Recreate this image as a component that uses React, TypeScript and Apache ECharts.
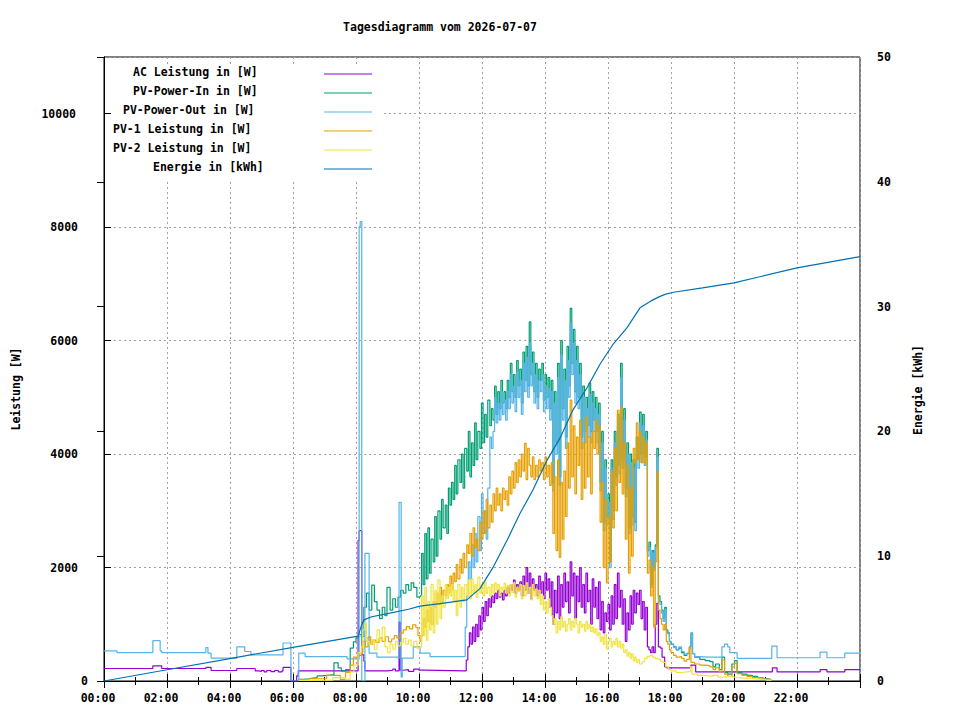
import React, { useEffect, useRef } from "react";
import * as echarts from "echarts";

const TITLE = "Tagesdiagramm vom 2026-07-07";
const Y_NAME = "Leistung [W]";
const Y2_NAME = "Energie [kWh]";
const xTickLabels = ["00:00", "02:00", "04:00", "06:00", "08:00", "10:00", "12:00", "14:00", "16:00", "18:00", "20:00", "22:00"];
const legendNames = ["AC Leistung in [W]", "PV-Power-In in [W]", "PV-Power-Out in [W]", "PV-1 Leistung in [W]", "PV-2 Leistung in [W]", "Energie in [kWh]"];
const colors = ["#9400d3", "#009e73", "#56b4e9", "#e69f00", "#f0e442", "#0072b2"];

// time in minutes since midnight, value in W
const acPower: [number, number][] = [
  [0,220],[93,265],[110,220],[194,240],[204,185],[253,220],[288,180],[295,170],[300,185],[305,160],[310,185],[318,165],[325,185],[332,160],[339,180],[341,240],[356,0],[367,90],[370,180],
  [484,2480],[486,2650],[491,460],[495,350],[497,180],[540,190],[550,210],[555,180],[562,1040],[564,190],[570,200],[580,170],[590,210],[600,190],[610,180],[686,180],
  [690,370],[693,600],[696,850],[699,650],[702,950],[705,700],[708,1000],[711,780],[714,1150],[717,900],[720,1300],[723,1050],[726,1400],[729,1150],[732,1450],[735,1300],[738,1500],
  [741,1380],[744,1550],[747,1450],[750,1600],[753,1480],[756,1550],[759,1430],[762,1600],[765,1500],[768,1650],[771,1550],[774,1700],[777,1600],[780,1780],[783,1550],[786,1700],
  [789,1600],[792,1750],[795,1500],[798,1850],[801,1600],[804,2000],[807,1550],[810,1900],[813,1450],[816,1800],[819,1600],[822,1700],[825,1500],[828,1850],[831,1550],[834,1750],
  [837,1450],[840,1900],[843,1600],[846,1800],[849,1300],[852,1750],[855,1000],[858,1600],[861,1200],[864,1850],[867,1100],[870,1700],[873,1300],[876,1900],[879,1400],[882,1750],
  [885,1200],[888,2100],[891,1500],[894,1900],[897,1100],[900,1850],[903,1400],[906,2000],[909,1300],[912,1700],[915,1200],[918,1900],[921,1400],[924,1600],[927,1000],[930,1800],
  [933,1300],[936,1650],[939,1100],[942,1750],[945,900],[948,1400],[951,850],[954,1200],[957,1050],[960,1350],[963,900],[966,1500],[969,1000],[972,1700],[975,1100],[978,1900],
  [981,1300],[984,1600],[987,1000],[990,1450],[993,700],[996,1200],[999,900],[1002,1500],[1005,1000],[1008,1600],[1011,1200],[1014,1550],[1017,1350],[1020,1600],[1023,1100],
  [1026,1400],[1029,900],[1032,1300],[1035,600],[1038,550],[1041,500],[1044,600],[1047,500],[1050,1000],[1053,1370],[1056,600],[1060,580],[1063,420],[1068,250],[1072,230],
  [1118,280],[1127,160],[1273,230],[1282,160],[1364,200],[1377,160],[1411,200],[1440,200]
];

const pvIn: [number, number][] = [
  [371,30],[380,40],[390,50],[398,60],[406,90],[415,100],[425,110],[436,105],[438,320],[446,230],[452,180],[460,200],[469,580],[475,690],[480,760],[485,820],[490,780],
  [495,1300],[500,1550],[505,1250],[510,1690],[515,1400],[520,1250],[525,1100],[530,1300],[535,1150],[539,1650],[545,1250],[550,1450],[555,1300],[560,1480],[565,1600],
  [570,1550],[575,1700],[580,1600],[585,1730],[590,1650],[596,1480],[602,1500],[605,2250],[608,1700],[611,2600],[614,1800],[617,2700],[620,1900],[623,2500],[627,2100],
  [630,2900],[633,2200],[636,3000],[640,2500],[643,3200],[646,2700],[650,3100],[653,2600],[656,3400],[659,3100],[662,3500],[665,3200],[668,3800],[671,3300],[674,3900],
  [678,3500],[681,4000],[684,3400],[687,4100],[691,3700],[694,4400],[697,3600],[700,4200],[703,3800],[706,4550],[709,3900],[712,4400],[716,4100],[719,4900],[722,4200],
  [725,4700],[728,4300],[731,4950],[735,4500],[738,4800],[741,4600],[744,5200],[747,4700],[750,5100],[753,4800],[756,5300],[759,4900],[762,5100],[765,4800],[768,5300],
  [771,5000],[774,5600],[777,5100],[780,5400],[783,5000],[786,5650],[789,5200],[792,5500],[795,4900],[798,5800],[801,5300],[804,5900],[807,5200],[810,6330],[813,5400],
  [816,5800],[819,5100],[822,5600],[825,5000],[828,5500],[831,5300],[834,5600],[837,4950],[840,5400],[843,5000],[846,5350],[849,4800],[852,5300],[855,3500],[858,5100],
  [861,4200],[864,5600],[867,3600],[870,6000],[873,4800],[876,5500],[879,4300],[882,5900],[885,5200],[888,6570],[891,5600],[894,6200],[897,5100],[900,5900],[903,5000],
  [906,5600],[909,4300],[912,5200],[915,4400],[918,5000],[921,4500],[924,5250],[927,4400],[930,5100],[933,4600],[936,5000],[939,4400],[942,4900],[945,3500],[948,4400],
  [951,2800],[954,3900],[957,2900],[960,3300],[963,2100],[966,3900],[969,3000],[972,4400],[975,3600],[978,4700],[981,3800],[984,5600],[987,3900],[990,4800],[993,3400],
  [996,4200],[999,2700],[1002,4000],[1005,2900],[1008,3900],[1011,2800],[1014,4300],[1017,3900],[1020,4740],[1023,4000],[1026,4700],[1029,3950],[1032,4400],[1035,2300],
  [1038,2450],[1041,1700],[1044,2300],[1047,2000],[1050,2400],[1053,4100],[1056,1500],[1059,1400],[1062,1250],[1065,1100],[1068,1300],[1071,900],[1074,850],[1077,700],
  [1080,650],[1085,600],[1090,550],[1095,580],[1100,500],[1105,450],[1110,480],[1115,600],[1118,845],[1121,480],[1125,420],[1135,380],[1145,360],[1154,340],[1160,250],
  [1165,300],[1172,200],[1177,420],[1182,150],[1188,120],[1196,300],[1201,360],[1206,150],[1215,120],[1225,100],[1235,80],[1245,60],[1255,40],[1265,30],[1270,0]
];

const pvOut: [number, number][] = [
  [0,530],[25,500],[93,710],[107,530],[110,500],[194,590],[198,490],[204,405],[253,600],[268,520],[280,460],[341,670],[356,0],[371,490],[383,430],[463,390],[484,390],
  [486,8010],[488,8100],[491,0],[497,2250],[505,490],[520,420],[560,400],[562,3150],[566,70],[568,405],[589,600],[596,600],[602,490],[621,430],[688,950],[691,1500],
  [694,2100],[697,1800],[700,2400],[703,2000],[706,2600],[709,2100],[712,2900],[716,2300],[719,3300],[722,2600],[725,3000],[728,2500],[731,3400],[735,4300],[738,4100],
  [741,4400],[744,5000],[747,4550],[750,4900],[753,4600],[756,5100],[759,4700],[762,4950],[765,4600],[768,5100],[771,4800],[774,5400],[777,4900],[780,5200],[783,4750],
  [786,5450],[789,5000],[792,5300],[795,4700],[798,5600],[801,5100],[804,5700],[807,5000],[810,5950],[813,5200],[816,5600],[819,4900],[822,5400],[825,4800],[828,5300],
  [831,5100],[834,5400],[837,4750],[840,5200],[843,4800],[846,5150],[849,4600],[852,5100],[855,3350],[858,4900],[861,4000],[864,5350],[867,3450],[870,5750],[873,4600],
  [876,5300],[879,4100],[882,5650],[885,5000],[888,6300],[891,5400],[894,5950],[897,4900],[900,5650],[903,4800],[906,5400],[909,4100],[912,5000],[915,4200],[918,4800],
  [921,4300],[924,5050],[927,4200],[930,4900],[933,4400],[936,4800],[939,4200],[942,4700],[945,3350],[948,4200],[951,2650],[954,3750],[957,2750],[960,3150],[963,2000],
  [966,3750],[969,2850],[972,4200],[975,3450],[978,4500],[981,3650],[984,5350],[987,3750],[990,4600],[993,3250],[996,4000],[999,2600],[1002,3850],[1005,2750],[1008,3750],
  [1011,2650],[1014,4100],[1017,3750],[1020,4550],[1023,3850],[1026,4500],[1029,3800],[1032,4250],[1035,2200],[1038,2350],[1041,1650],[1044,2250],[1047,1950],[1050,2350],
  [1053,3950],[1056,1450],[1059,1350],[1062,1200],[1065,1050],[1068,1250],[1071,880],[1074,830],[1077,690],[1080,640],[1085,590],[1090,560],[1095,600],[1100,520],[1105,470],
  [1110,490],[1115,600],[1118,845],[1121,480],[1125,430],[1135,420],[1154,420],[1177,600],[1182,650],[1188,600],[1192,500],[1206,400],[1272,615],[1282,410],[1364,510],
  [1377,410],[1411,490],[1440,490]
];

const pv1: [number, number][] = [
  [371,20],[390,40],[424,100],[450,30],[460,150],[469,280],[475,420],[484,450],[490,490],[493,700],[498,600],[503,780],[508,650],[512,720],[518,680],[524,760],[530,700],
  [536,780],[542,690],[548,740],[553,800],[558,760],[564,845],[570,900],[576,960],[582,920],[588,990],[594,940],[598,800],[602,700],[605,800],[608,1100],[611,950],[614,1250],
  [617,1050],[620,1300],[623,1000],[627,1400],[630,1300],[633,1550],[636,1350],[640,1650],[643,1400],[646,1600],[650,1500],[653,1700],[656,1550],[659,1850],[662,1600],
  [665,1900],[668,1750],[671,2050],[674,1800],[678,2150],[681,1900],[684,2250],[687,2000],[691,2400],[694,2250],[697,2600],[700,2200],[703,2700],[706,2350],[709,2500],
  [712,2300],[716,2800],[719,2500],[722,3000],[725,2600],[728,3200],[731,2700],[735,3100],[738,2800],[741,3300],[744,3000],[747,3400],[750,3100],[753,3300],[756,3000],
  [759,3400],[762,3200],[765,3350],[768,3100],[771,3600],[774,3300],[777,3700],[780,3400],[783,3850],[786,3500],[789,3900],[792,3600],[795,4000],[798,3700],[801,4190],
  [804,3550],[807,4100],[810,3800],[813,3600],[816,3950],[819,3550],[822,3800],[825,3600],[828,3900],[831,3700],[834,3850],[837,3550],[840,3950],[843,3600],[846,3800],
  [849,3450],[852,3850],[855,2600],[858,3600],[861,2300],[864,3900],[867,2180],[870,3500],[873,2500],[876,3700],[879,2900],[882,4200],[885,3400],[888,4950],[891,3600],
  [894,4500],[897,3300],[900,4300],[903,3800],[906,4600],[909,3200],[912,4200],[915,3400],[918,4650],[921,3600],[924,4300],[927,3300],[930,4400],[933,4100],[936,4600],
  [939,4000],[942,4500],[945,2800],[948,3500],[951,2000],[954,3200],[957,1730],[960,2900],[963,2100],[966,3700],[969,2700],[972,4100],[975,3000],[978,4770],[981,3500],
  [984,4830],[987,3300],[990,4200],[993,2500],[996,3800],[999,1900],[1002,3400],[1005,2200],[1008,4100],[1011,3840],[1014,4550],[1017,3900],[1020,4400],[1023,3850],
  [1026,4300],[1029,3840],[1032,4200],[1035,1900],[1038,2130],[1041,1500],[1044,2000],[1047,950],[1050,2100],[1053,3690],[1056,1250],[1059,1100],[1062,1000],[1065,900],
  [1068,1000],[1071,700],[1074,650],[1077,550],[1080,500],[1085,450],[1090,420],[1095,430],[1100,400],[1105,350],[1110,380],[1115,580],[1118,330],[1125,300],[1135,280],
  [1145,270],[1154,250],[1160,200],[1165,230],[1172,160],[1177,370],[1182,120],[1188,80],[1196,250],[1201,310],[1206,130],[1215,100],[1225,80],[1235,60],[1245,50],
  [1255,30],[1265,20],[1270,0]
];

const pv2: [number, number][] = [
  [371,10],[400,15],[436,60],[447,60],[460,30],[469,160],[476,280],[484,500],[490,600],[493,900],[496,1020],[500,700],[505,650],[510,720],[515,560],[520,900],[525,720],
  [530,950],[535,600],[540,500],[545,650],[550,560],[555,700],[560,620],[565,680],[570,750],[575,650],[580,720],[585,620],[590,700],[596,580],[602,600],[605,1500],[608,800],
  [611,1650],[614,720],[617,1400],[620,900],[623,1700],[627,850],[630,1600],[633,1000],[636,1780],[640,1100],[643,1500],[646,1300],[650,1700],[653,1450],[656,1650],
  [659,1500],[662,1700],[665,1400],[668,1600],[671,1150],[674,1700],[678,1300],[681,1650],[684,1400],[687,1700],[691,1500],[694,1780],[697,1450],[700,1800],[703,1550],
  [706,1700],[709,1480],[712,1830],[716,1550],[719,1700],[722,1500],[725,1750],[728,1550],[731,1650],[735,1500],[738,1700],[741,1550],[744,1730],[747,1600],[750,1700],
  [753,1500],[756,1650],[759,1600],[762,1720],[765,1550],[768,1680],[771,1500],[774,1700],[777,1560],[780,1730],[783,1480],[786,1650],[789,1580],[792,1700],[795,1450],
  [798,1680],[801,1500],[804,1730],[807,1550],[810,1650],[813,1430],[816,1700],[819,1500],[822,1620],[825,1450],[828,1600],[831,1350],[834,1500],[837,1250],[840,1400],
  [843,1200],[846,1450],[849,1300],[852,1150],[855,1000],[858,1100],[861,850],[864,1050],[867,900],[870,1130],[873,950],[876,1050],[879,880],[882,1000],[885,1100],[888,900],
  [891,1050],[894,950],[897,1100],[900,1000],[903,850],[906,1050],[909,950],[912,1000],[915,880],[918,1050],[921,920],[924,1000],[927,870],[930,950],[933,850],[936,920],
  [939,800],[942,850],[945,700],[948,780],[951,650],[954,820],[957,560],[960,700],[963,750],[966,600],[969,700],[972,640],[975,750],[978,600],[981,700],[984,580],[987,650],
  [990,500],[993,550],[996,440],[999,500],[1002,400],[1005,480],[1008,350],[1011,420],[1014,330],[1017,380],[1020,300],[1025,340],[1030,400],[1035,430],[1040,450],[1045,420],
  [1050,400],[1055,380],[1060,350],[1065,330],[1070,250],[1075,200],[1080,180],[1090,150],[1100,160],[1110,170],[1117,250],[1120,120],[1130,100],[1140,90],[1150,80],
  [1160,100],[1170,70],[1180,80],[1190,70],[1200,60],[1210,50],[1220,50],[1230,40],[1240,30],[1250,30],[1260,15],[1270,0]
];

// kWh
const energy: [number, number][] = [
  [0,0],[120,0.9],[240,1.8],[360,2.7],[484,3.6],[490,4.4],[495,4.9],[510,5.15],[540,5.4],[580,5.75],[602,6.0],[640,6.2],[691,6.5],[716,7.4],[741,9.1],[768,11.3],
  [792,13.4],[817,15.3],[844,17.7],[869,19.5],[893,21.7],[920,23.5],[945,25.4],[970,27.0],[996,28.3],[1021,29.9],[1044,30.5],[1058,30.8],[1070,31.0],[1085,31.15],[1140,31.5],
  [1200,31.9],[1320,33.1],[1440,34.0]
];

const FONT_FAMILY = '"DejaVu Sans Mono", monospace';
const FONT = `bold 11.5px ${FONT_FAMILY}`;

const legendTextX = [133, 133, 123, 113, 113, 153];

export default function App() {
  const ref = useRef<HTMLDivElement>(null);
  useEffect(() => {
    if (!ref.current) return;
    const chart = echarts.init(ref.current, null, { renderer: "svg" });
    const lineSeries = [acPower, pvIn, pvOut, pv1, pv2, energy].map((d, i) => ({
      name: legendNames[i],
      type: "line",
      data: d,
      step: i === 5 ? undefined : "end",
      yAxisIndex: i === 5 ? 1 : 0,
      showSymbol: false,
      symbol: "none",
      lineStyle: { color: colors[i], width: 1.2 },
      itemStyle: { color: colors[i] },
      z: 2 + i,
    }));

    const legendGraphics: any[] = [
      { type: "rect", shape: { x: 113, y: 64, width: 270, height: 116 }, style: { fill: "#fff" }, z: 50, silent: true },
    ];
    legendNames.forEach((n, i) => {
      const yy = 72 + i * 19;
      legendGraphics.push({
        type: "text", x: legendTextX[i], y: yy, z: 51,
        style: { text: n, font: FONT, fill: "#000", textAlign: "left", textVerticalAlign: "middle" },
      });
      legendGraphics.push({
        type: "line", z: 51, shape: { x1: 324, y1: yy + 2, x2: 372, y2: yy + 2 },
        style: { stroke: colors[i], lineWidth: 1.2 },
      });
    });

    const tickStyle = { color: "#000", width: 1 };
    const labelStyle = { color: "#000", fontFamily: FONT_FAMILY, fontWeight: "bold" as const, fontSize: 11.5 };

    chart.setOption({
      animation: false,
      backgroundColor: "#ffffff",
      grid: { left: 104, right: 100, top: 57, bottom: 39, show: true, borderColor: "#000", borderWidth: 1, backgroundColor: "transparent" },
      xAxis: [
        {
          type: "value", min: 0, max: 1440, interval: 120, position: "bottom",
          axisLine: { show: true, lineStyle: { color: "#000" } },
          axisTick: { show: true, inside: true, length: 7, lineStyle: tickStyle },
          minorTick: { show: true, splitNumber: 2, length: 4, lineStyle: tickStyle },
          axisLabel: {
            ...labelStyle, margin: 11, showMaxLabel: false,
            formatter: (v: number) => {
              const s = xTickLabels[Math.round(v / 120)];
              return s ? `{a|${s}}` : "";
            },
            rich: { a: { ...labelStyle, padding: [0, 12, 0, 0] } },
          },
          splitLine: { show: true, lineStyle: { color: "#a0a0a0", type: [2, 3], width: 1 } },
        },
        {
          type: "value", min: 0, max: 1440, interval: 120, position: "top",
          axisLine: { show: true, lineStyle: { color: "#000" } },
          axisTick: { show: true, inside: true, length: 7, lineStyle: tickStyle },
          minorTick: { show: true, splitNumber: 2, length: 4, lineStyle: tickStyle },
          axisLabel: { show: false },
          splitLine: { show: false },
        },
      ],
      yAxis: [
        {
          type: "value", min: 0, max: 11000, interval: 2000, position: "left",
          axisLine: { show: true, lineStyle: { color: "#000" } },
          axisTick: { show: true, inside: true, length: 7, lineStyle: tickStyle },
          axisLabel: {
            ...labelStyle, margin: 16, showMaxLabel: false,
            formatter: (v: number) => {
              const s = String(v);
              return `{p${s.length}|${s}}`;
            },
            rich: {
              p1: { ...labelStyle, padding: [0, 0, 0, 0] },
              p4: { ...labelStyle, padding: [0, 10, 0, 0] },
              p5: { ...labelStyle, padding: [0, 12, 0, 0] },
            },
          },
          splitLine: { show: true, lineStyle: { color: "#a0a0a0", type: [2, 3], width: 1 } },
        },
        {
          type: "value", min: 0, max: 50, interval: 10, position: "right",
          axisLine: { show: true, lineStyle: { color: "#000" } },
          axisTick: { show: true, inside: true, length: 7, lineStyle: tickStyle },
          axisLabel: { ...labelStyle, margin: 17, formatter: (v: number) => String(v) },
          splitLine: { show: false },
        },
      ],
      graphic: [
        {
          type: "text", x: 440, y: 27,
          style: { text: TITLE, font: FONT, fill: "#000", textAlign: "center", textVerticalAlign: "middle" },
        },
        {
          type: "text", x: 16, y: 389, rotation: Math.PI / 2,
          style: { text: Y_NAME, font: FONT, fill: "#000", textAlign: "center", textVerticalAlign: "middle" },
        },
        {
          type: "text", x: 918, y: 390, rotation: Math.PI / 2,
          style: { text: Y2_NAME, font: FONT, fill: "#000", textAlign: "center", textVerticalAlign: "middle" },
        },
        ...legendGraphics,
      ],
      series: lineSeries,
    });
    return () => chart.dispose();
  }, []);
  return <div ref={ref} style={{ position: "absolute", left: 0, top: 0, width: 960, height: 720, background: "#fff" }} />;
}
